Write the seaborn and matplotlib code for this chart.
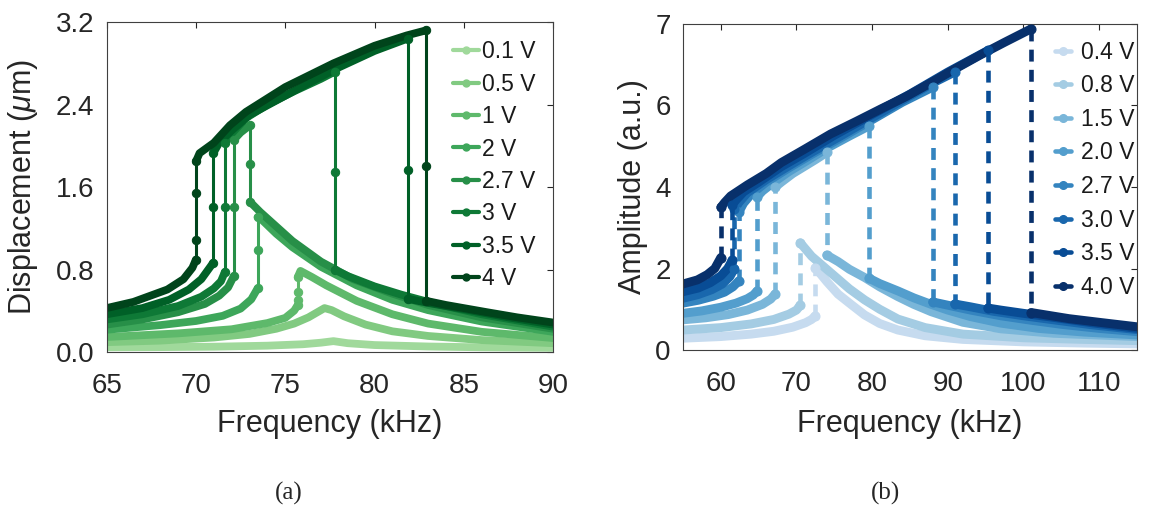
import numpy as np
import matplotlib
matplotlib.use('Agg')
import matplotlib.pyplot as plt
import seaborn as sns
from matplotlib.lines import Line2D
from matplotlib.legend_handler import HandlerLine2D

# ─── DATA ─────────────────────────────────────────────────────
# every curve is one sweep; consecutive points that share a frequency
# are the vertical jumps between branches

# (a) displacement (um) vs frequency (kHz)
a_labels = ['0.1 V', '0.5 V', '1 V', '2 V', '2.7 V', '3 V', '3.5 V', '4 V']

a01_f = [65, 68, 71, 74, 76, 77.0, 77.7, 78.5, 80, 83, 86, 90]
a01_d = [0.05, 0.052, 0.056, 0.066, 0.08, 0.095, 0.11, 0.09, 0.072, 0.058, 0.05, 0.045]

a05_f = [65, 68, 71, 73, 74.5, 75.5, 76.3, 76.8, 77.2, 77.6, 78.3, 79.5, 81, 83, 86, 90]
a05_d = [0.10, 0.115, 0.145, 0.18, 0.23, 0.28, 0.34, 0.39, 0.43, 0.41, 0.35, 0.27, 0.205, 0.16, 0.12, 0.09]

a1_f = [65, 69, 72, 74, 75, 75.5, 75.7, 75.7, 75.7, 75.7, 75.85, 76.5, 77.3, 79, 81, 83, 86, 90]
a1_d = [0.15, 0.185, 0.225, 0.285, 0.335, 0.405, 0.46, 0.51, 0.59, 0.73, 0.79, 0.73, 0.65, 0.5, 0.37, 0.28, 0.2, 0.14]

a2_f = [65, 68, 70, 71.5, 72.5, 73.1, 73.45, 73.45, 73.45, 73.6, 74.5, 75.4, 77, 79, 81, 83, 86, 90]
a2_d = [0.22, 0.265, 0.305, 0.355, 0.425, 0.515, 0.62, 0.99, 1.31, 1.30, 1.15, 1.02, 0.83, 0.65, 0.51, 0.41, 0.30, 0.20]

a27_f = [65, 67, 69, 70.5, 71.3, 71.8, 72.12, 72.12, 72.12, 72.5, 73.02, 73.02, 73.02,
         73.6, 74.5, 75.4, 77, 78.8, 81, 83, 86, 90]
a27_d = [0.27, 0.32, 0.39, 0.47, 0.55, 0.63, 0.74, 1.41, 2.06, 2.13, 2.20, 1.83, 1.46,
         1.36, 1.22, 1.08, 0.88, 0.71, 0.57, 0.46, 0.34, 0.23]

a3_f = [65, 67, 69, 70.3, 71.0, 71.4, 71.62, 71.62, 71.62, 72.0, 72.8, 74, 75.5, 77, 77.78,
        77.78, 77.78, 78.5, 80, 81.5, 83, 86, 90]
a3_d = [0.32, 0.37, 0.45, 0.54, 0.62, 0.69, 0.78, 1.41, 2.03, 2.12, 2.27, 2.40, 2.53, 2.65, 2.72,
        1.75, 0.80, 0.74, 0.64, 0.56, 0.49, 0.37, 0.25]

a35_f = [65, 67, 68.5, 69.6, 70.3, 70.97, 70.97, 70.97, 71.3, 72, 73, 74.5, 76, 78, 80, 81.86,
         81.86, 81.86, 83, 85, 87.5, 90]
a35_d = [0.37, 0.43, 0.51, 0.61, 0.71, 0.87, 1.41, 1.93, 2.03, 2.15, 2.30, 2.44, 2.58, 2.76, 2.92, 3.04,
         1.77, 0.52, 0.48, 0.42, 0.34, 0.27]

a4_f = [65, 66.5, 68.4, 69.3, 69.8, 70.0, 70.0, 70.0, 70.0, 70.2, 70.6, 71.0, 71.9, 72.8, 75, 77.7,
        80, 81.8, 82.9, 82.9, 82.9, 84, 86.3, 88, 90]
a4_d = [0.43, 0.49, 0.61, 0.71, 0.82, 0.90, 1.09, 1.54, 1.85, 1.93, 1.98, 2.03, 2.20, 2.33, 2.57, 2.80,
        2.97, 3.07, 3.12, 1.81, 0.50, 0.46, 0.39, 0.34, 0.29]

# (b) amplitude (a.u.) vs frequency (kHz)
b_labels = ['0.4 V', '0.8 V', '1.5 V', '2.0 V', '2.7 V', '3.0 V', '3.5 V', '4.0 V']

b04_f = [55, 60, 64, 67, 69.5, 71.2, 72.0, 72.5, 72.5, 74, 75.5, 77.2, 79, 81, 83.4, 87, 92, 100, 108, 115]
b04_a = [0.29, 0.33, 0.39, 0.46, 0.56, 0.67, 0.75, 0.84, 2.02, 1.68, 1.37, 1.12, 0.86, 0.65, 0.49, 0.35,
         0.26, 0.20, 0.17, 0.15]

b08_f = [55, 60, 64, 67, 69, 70.0, 70.5, 70.5, 72, 74.5, 77, 79, 81, 83.4, 87, 92, 100, 108, 115]
b08_a = [0.49, 0.55, 0.64, 0.75, 0.88, 0.98, 1.10, 2.63, 2.30, 1.90, 1.50, 1.23, 1.00, 0.76, 0.55, 0.39,
         0.30, 0.26, 0.23]

b15_f = [55, 58, 61, 63.5, 65.5, 66.6, 67.2, 67.2, 68, 69.5, 71, 72.5, 74.0, 74.0, 75.5, 77, 79, 81, 83.4,
         85.5, 87.8, 92, 97, 104, 115]
b15_a = [0.74, 0.79, 0.87, 0.98, 1.12, 1.25, 1.38, 4.00, 4.12, 4.33, 4.50, 4.67, 4.85, 2.33, 2.17, 1.98,
         1.78, 1.55, 1.31, 1.12, 0.94, 0.68, 0.52, 0.41, 0.33]

b20_f = [55, 57.5, 60, 62, 63.5, 64.3, 64.8, 64.8, 65.5, 67, 69, 71.5, 74, 77, 79.6, 79.6, 81, 83.4, 85.5,
         87.8, 90, 93, 97, 102, 108, 115]
b20_a = [0.90, 0.96, 1.05, 1.15, 1.26, 1.35, 1.45, 3.76, 3.90, 4.12, 4.38, 4.66, 4.95, 5.25, 5.50, 1.76,
         1.63, 1.45, 1.28, 1.12, 0.98, 0.82, 0.66, 0.53, 0.44, 0.37]

b27_f = [55, 57, 59, 60.5, 61.6, 62.4, 62.4, 63, 64, 66, 69, 72, 76, 80, 84, 88.0, 88.0, 90, 93, 97, 101,
         105, 110, 115]
b27_a = [1.15, 1.22, 1.32, 1.42, 1.55, 1.70, 3.39, 3.60, 3.82, 4.12, 4.47, 4.80, 5.22, 5.65, 6.08, 6.45,
         1.18, 1.10, 0.98, 0.84, 0.73, 0.63, 0.53, 0.45]

b30_f = [55, 57, 58.8, 60.2, 61.2, 61.8, 61.8, 62.4, 63.5, 66, 69, 72, 76, 80, 84, 88, 90.9, 90.9, 93, 96,
         100, 104, 109, 115]
b30_a = [1.27, 1.36, 1.48, 1.62, 1.80, 2.00, 3.45, 3.62, 3.86, 4.18, 4.52, 4.85, 5.27, 5.70, 6.13, 6.55,
         6.82, 1.13, 1.06, 0.95, 0.84, 0.74, 0.62, 0.50]

b35_f = [55, 57, 58.6, 60.0, 60.9, 61.5, 61.5, 62, 63, 65, 68, 71, 75, 80, 85, 90, 95.3, 95.3, 97, 100,
         104, 109, 115]
b35_a = [1.43, 1.52, 1.65, 1.82, 2.00, 2.20, 3.56, 3.68, 3.88, 4.12, 4.50, 4.82, 5.27, 5.78, 6.28, 6.82,
         7.35, 1.03, 0.98, 0.90, 0.80, 0.67, 0.53]

b40_f = [55, 56.9, 58.2, 59.2, 60.0, 60.0, 60.5, 61.3, 63.5, 66, 68, 71, 74.5, 78, 81.2, 84.5, 87.8, 91,
         94.4, 97.5, 101.0, 101.0, 103, 106, 110, 115]
b40_a = [1.62, 1.72, 1.85, 2.00, 2.27, 3.50, 3.62, 3.78, 4.05, 4.33, 4.60, 4.92, 5.30, 5.62, 5.92, 6.22,
         6.56, 6.90, 7.25, 7.55, 7.88, 0.92, 0.86, 0.77, 0.68, 0.57]

a_ticks = [0, 0.8, 1.6, 2.4, 3.2]
b_ticks = [0, 2, 4, 6, 8]
b_ticklabels = ['0', '2', '4', '6', '7']

a_f = [a01_f, a05_f, a1_f, a2_f, a27_f, a3_f, a35_f, a4_f]
a_d = [a01_d, a05_d, a1_d, a2_d, a27_d, a3_d, a35_d, a4_d]
b_f = [b04_f, b08_f, b15_f, b20_f, b27_f, b30_f, b35_f, b40_f]
b_a = [b04_a, b08_a, b15_a, b20_a, b27_a, b30_a, b35_a, b40_a]

# ─── STYLE ────────────────────────────────────────────────────
sns.set_style('white')
plt.rcParams['font.family'] = ['Liberation Sans', 'DejaVu Sans']
plt.rcParams['mathtext.fontset'] = 'custom'
plt.rcParams['mathtext.it'] = 'Liberation Sans:italic'
plt.rcParams['mathtext.rm'] = 'Liberation Sans'
greens = [plt.cm.Greens(v) for v in np.linspace(0.375, 1.0, 8)]
blues = [plt.cm.Blues(v) for v in np.linspace(0.25, 1.0, 8)]


def runs(f, y):
    # split a sweep into (is_jump, x, y) pieces
    out = []
    i = 0
    while i < len(f) - 1:
        jump = f[i + 1] == f[i]
        j = i
        while j < len(f) - 1 and (f[j + 1] == f[j]) == jump:
            j += 1
        out.append((jump, f[i:j + 1], y[i:j + 1]))
        i = j
    return out


class DotAtEnd(HandlerLine2D):
    def get_xdata(self, legend, xdescent, ydescent, width, height, fontsize):
        xdata, _ = super().get_xdata(legend, xdescent, ydescent, width, height, fontsize)
        return xdata, np.array([xdata[-1]])


fig = plt.figure(figsize=(11.51, 5.17), dpi=100)
ax1 = fig.add_axes([0.0927, 0.3182, 0.3878, 0.6392])
ax2 = fig.add_axes([0.5934, 0.3230, 0.3944, 0.6306])

# (a) solid jumps with dots
for f, d, c in zip(a_f, a_d, greens):
    for jump, xs, ys in runs(f, d):
        if jump:
            sns.lineplot(x=xs, y=ys, ax=ax1, sort=False, estimator=None, color=c, lw=2.2,
                         marker='o', ms=6, mec=c, mfc=c, zorder=3)
        else:
            sns.lineplot(x=xs, y=ys, ax=ax1, sort=False, estimator=None, color=c, lw=5.6,
                         solid_capstyle='round', solid_joinstyle='round', zorder=2)

# (b) dashed jumps, dots at the ends
for f, a, c in zip(b_f, b_a, blues):
    for jump, xs, ys in runs(f, a):
        if jump:
            sns.lineplot(x=xs, y=ys, ax=ax2, sort=False, estimator=None, color=c, lw=3.3,
                         linestyle=(0, (2.6, 1.8)), marker='o', ms=6.5, mec=c, mfc=c,
                         markevery=[0, len(xs) - 1], zorder=3)
        else:
            sns.lineplot(x=xs, y=ys, ax=ax2, sort=False, estimator=None, color=c, lw=6.4,
                         solid_capstyle='round', solid_joinstyle='round', zorder=2)

for ax in (ax1, ax2):
    ax.tick_params(direction='in', length=4, width=0.8, top=True, right=True,
                   labelsize=20, colors='#262626', pad=9)
    ax.tick_params(axis='x', pad=15)
    for s in ax.spines.values():
        s.set_visible(True)
        s.set_color('#404040')
        s.set_linewidth(0.8)

ax1.set_xlim(65, 90)
ax1.set_xticks([65, 70, 75, 80, 85, 90])
ax1.set_ylim(0, 3.2)
ax1.set_yticks(a_ticks)
ax1.yaxis.set_major_formatter(plt.FuncFormatter(lambda v, _: f'{v:.1f}'))

ax2.set_xlim(55, 115)
ax2.set_xticks([60, 70, 80, 90, 100, 110])
ax2.set_ylim(0, 8)
ax2.set_yticks(b_ticks)
ax2.set_yticklabels(b_ticklabels)

ax1.set_xlabel('Frequency (kHz)', fontsize=22, color='#262626')
ax2.set_xlabel('Frequency (kHz)', fontsize=22, color='#262626')
ax1.set_ylabel('Displacement ($\\mu$m)', fontsize=22, color='#262626')
ax2.set_ylabel('Amplitude (a.u.)', fontsize=22, color='#262626')
ax1.xaxis.set_label_coords(0.5, -0.17)
ax2.xaxis.set_label_coords(0.5, -0.18)
ax1.yaxis.set_label_coords(-0.15, 0.5)
ax2.yaxis.set_label_coords(-0.078, 0.5)

# legends
h1 = [Line2D([], [], color=c, lw=3, marker='o', ms=5, mec=c, mfc=c) for c in greens]
fig.legend(h1, a_labels, loc='upper left', bbox_to_anchor=(0.3936, 0.922), frameon=False,
           fontsize=16.5, handlelength=1.15, handletextpad=0.1, labelspacing=0.41,
           borderpad=0, borderaxespad=0, numpoints=1, labelcolor='#1a1a1a')
h2 = [Line2D([], [], color=c, lw=3.3, marker='o', ms=5.5, mec=c, mfc=c) for c in blues]
fig.legend(h2, b_labels, loc='upper left', bbox_to_anchor=(0.9166, 0.921), frameon=False,
           fontsize=16.5, handlelength=0.7, handletextpad=0.45, labelspacing=0.46,
           borderpad=0, borderaxespad=0, handler_map={Line2D: DotAtEnd()}, labelcolor='#1a1a1a')

fig.text(289 / 1151, 1 - 493 / 517, '(a)', ha='center', va='center', fontsize=18,
         family='Liberation Serif')
fig.text(885 / 1151, 1 - 493 / 517, '(b)', ha='center', va='center', fontsize=18,
         family='Liberation Serif')

plt.savefig('out.png', dpi=100)
plt.close()
